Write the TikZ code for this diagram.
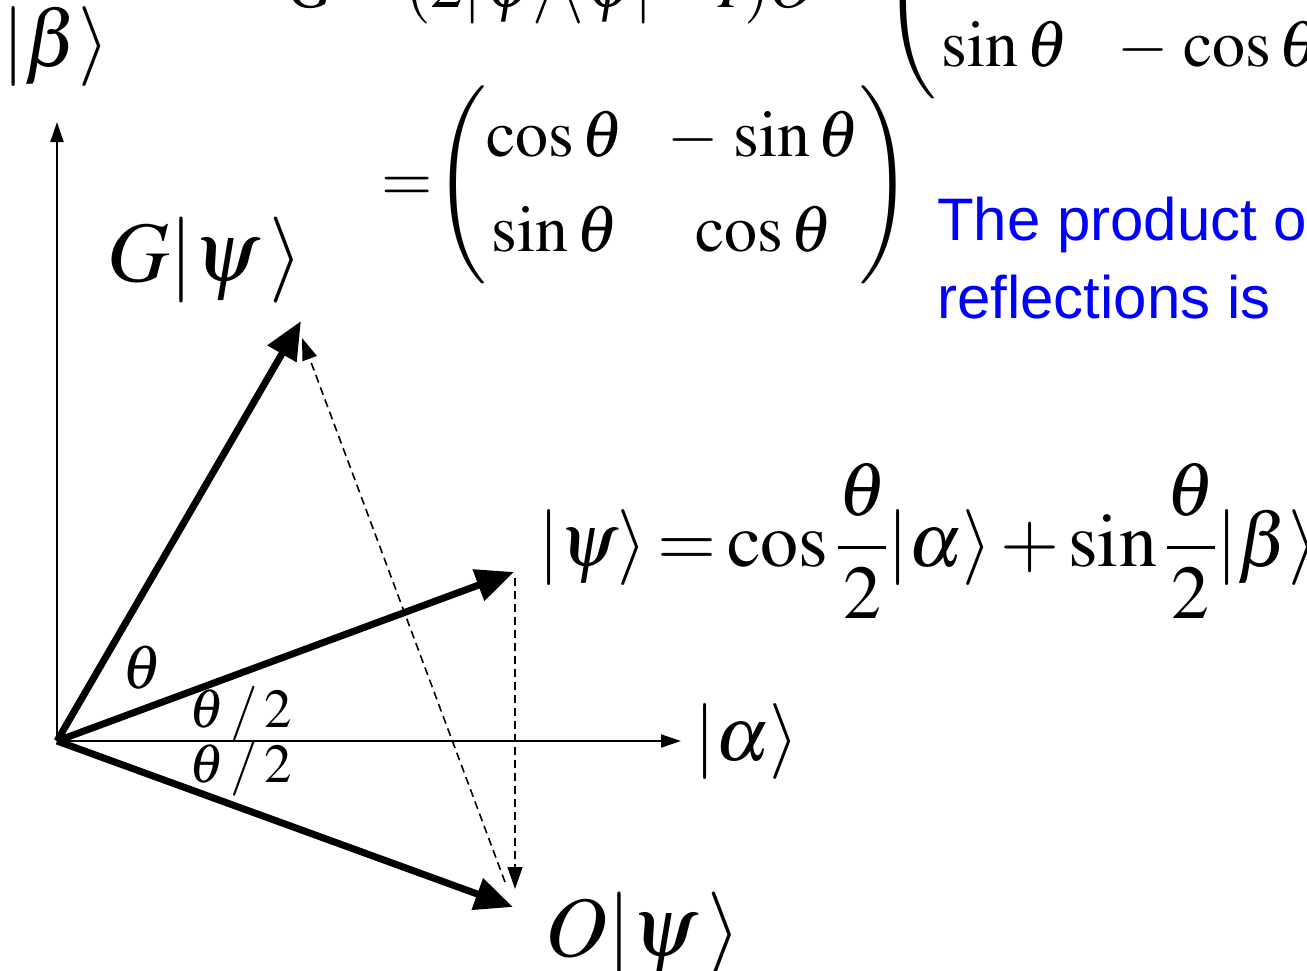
\documentclass[tikz,border=0pt]{standalone}
\usepackage{amsmath}
\usepackage{mathptmx}
\usepackage[no-math]{fontspec}
\newfontfamily\arialfont{Liberation Sans}
\usetikzlibrary{arrows.meta}
\newcommand\setfs[1]{\fontsize{#1}{#1}\selectfont}
\newcommand\tightsp{\thickmuskip=2.5mu plus 1mu\medmuskip=2mu\thinmuskip=2mu}
\newcommand\matsetup{\setfs{66}\setlength\arraycolsep{22pt}\renewcommand\arraystretch{1.44}}
\tikzset{
  vec/.style={line width=7pt, -{Triangle[length=38pt,width=32pt]}},
  axis/.style={line width=2pt, -{Triangle[length=20pt,width=13pt]}},
  dsh/.style={line width=1.6pt, dash pattern=on 8pt off 5pt, -{Triangle[length=22pt,width=15pt]}},
  lbl/.style={inner sep=0pt, outer sep=0pt},
  bluetxt/.style={inner sep=0pt, text=blue, align=left, font=\arialfont\fontsize{60}{78}\selectfont},
}
\begin{document}
\begin{tikzpicture}[x=1pt,y=-1pt]
\useasboundingbox (0,0) rectangle (1307,970);
\clip (0,0) rectangle (1307,970);

% coordinates
\coordinate (O) at (57,741);
\coordinate (ytip) at (57,122);
\coordinate (xtip) at (681,741);
\coordinate (G) at (301,321);
\coordinate (P) at (514,572);
\coordinate (Q) at (513,907);
\coordinate (Pd) at (515,578);
\coordinate (Qd) at (515,889);
\coordinate (Qs) at (505,882);
\coordinate (Gd) at (302,338);

% axes
\draw[axis] (O) -- (ytip);
\draw[axis] (O) -- (xtip);

% vectors
\draw[vec] (O) -- (G);
\draw[vec] (O) -- (P);
\draw[vec] (O) -- (Q);

% dashed
\draw[dsh] (Pd) -- (Qd);
\draw[dsh] (Qs) -- (Gd);

% labels
\node[lbl] (beta) at (56,47) {\setfs{80}$\lvert\beta\rangle$};
\node[lbl] (alpha) at (747,742) {\setfs{76}$\lvert\alpha\rangle$};
\node[lbl] (Gpsi) at (205,260) {\setfs{86}$G\lvert\psi\,\rangle$};
\node[lbl] (Opsi) at (643,935) {\setfs{86}$O\lvert\psi\,\rangle$};
\node[lbl] (th) at (142,668) {\setfs{62}$\theta$};
\node[lbl] (th1) at (241,714) {\setfs{55}$\theta\,/\,2$};
\node[lbl] (th2) at (241,769) {\setfs{55}$\theta\,/\,2$};

% psi equation
\node[lbl, anchor=west] (psieq) at (538,541) {\setfs{76}\tightsp$\lvert\psi\rangle=\cos\dfrac{\theta}{2}\lvert\alpha\rangle+\sin\dfrac{\theta}{2}\lvert\beta\rangle$};

% lower matrix
\node[lbl, anchor=west] (mat) at (381,185) {\matsetup\tightsp$=\!\begin{pmatrix}\cos\theta & -\,\sin\theta\\ \sin\theta & \cos\theta\end{pmatrix}$};

% top equation (cropped)
\node[lbl, anchor=east] (topl) at (878,-9) {\setfs{66}\tightsp$G=(2\lvert\psi\rangle\langle\psi\rvert-I)O=$};
\node[lbl, anchor=west] (topm) at (884,0) {\matsetup$\begin{pmatrix}\cos\theta & \sin\theta\\ \sin\theta & -\,\cos\theta\end{pmatrix}$};

% blue text
\node[bluetxt, anchor=base west] (note) at (937,318) {The product of\\reflections is};
\end{tikzpicture}
\end{document}
